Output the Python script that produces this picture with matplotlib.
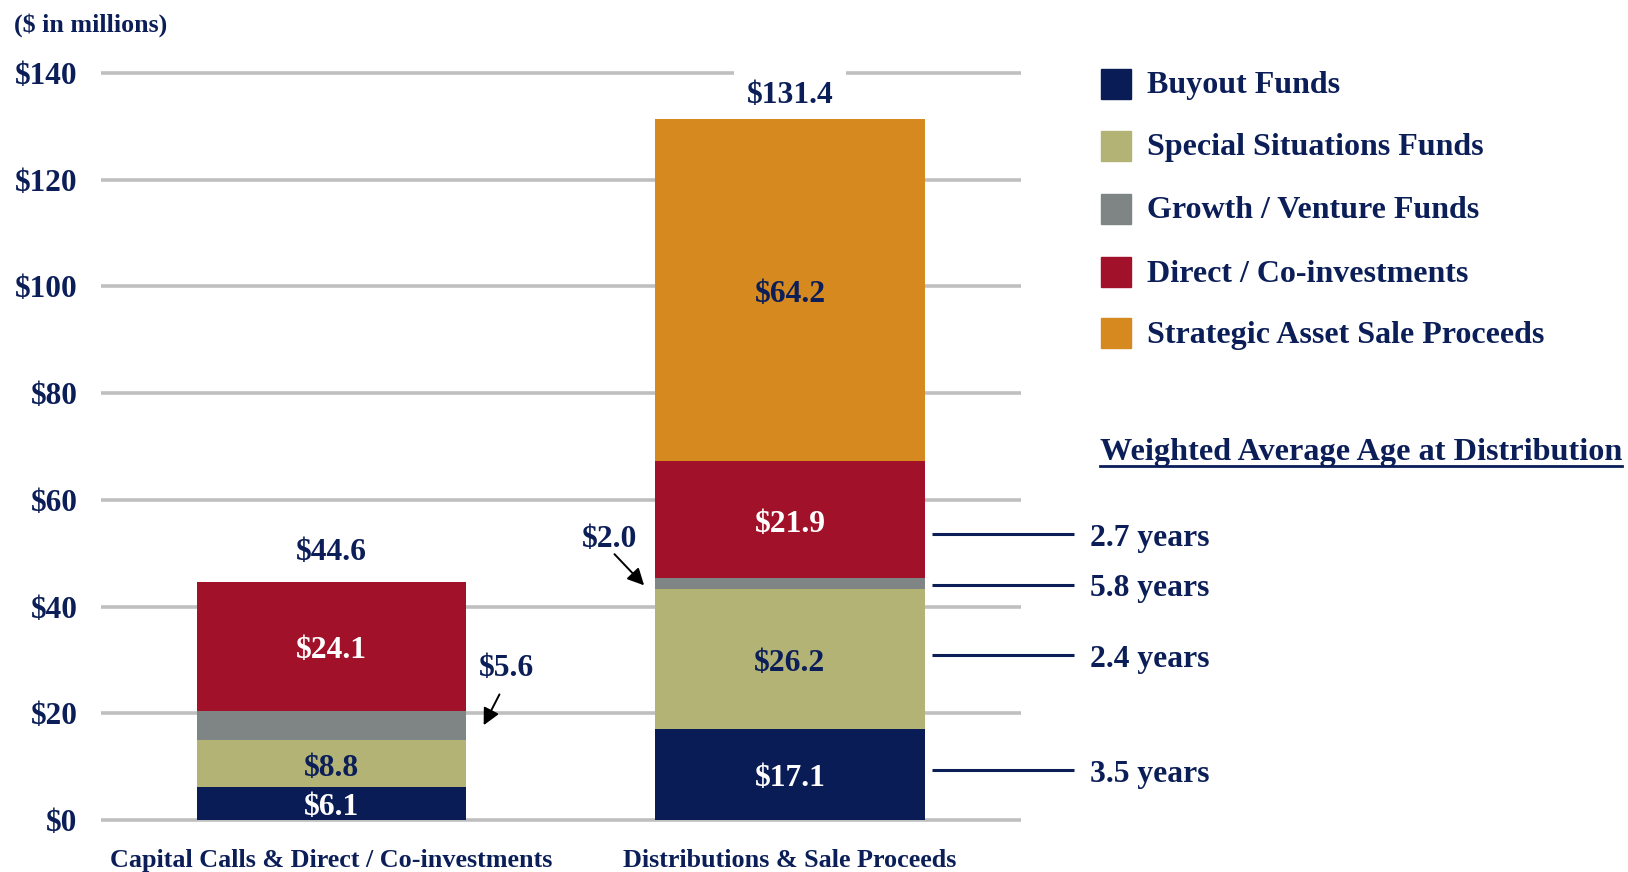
import matplotlib
matplotlib.use("Agg")
import matplotlib.pyplot as plt
from matplotlib.patches import Rectangle
from matplotlib.lines import Line2D
import matplotlib.transforms as mtransforms

plt.rcParams['font.family'] = ['Liberation Serif', 'DejaVu Serif']
plt.rcParams['font.weight'] = 'bold'

# ---- data ----
categories = ["Capital Calls & Direct / Co-investments", "Distributions & Sale Proceeds"]
series_names = ["Buyout Funds", "Special Situations Funds", "Growth / Venture Funds",
                "Direct / Co-investments", "Strategic Asset Sale Proceeds"]
buyout = [6.1, 17.1]
special = [8.8, 26.2]
growth = [5.6, 2.0]
direct = [24.1, 21.9]
strategic = [0.0, 64.2]
totals = [44.6, 131.4]
ages = ["3.5 years", "2.4 years", "5.8 years", "2.7 years"]
age_levels = [9.3, 30.9, 44.1, 53.6]
yticks = [0, 20, 40, 60, 80, 100, 120, 140]

NAVY = '#0B1E58'
colors = ['#0A1C55', '#B3B376', '#7E8584', '#A11129', '#D5891F']
label_colors = ['white', NAVY, NAVY, 'white', NAVY]
FS = 22.8

W, H = 1628, 872
fig = plt.figure(figsize=(W / 100, H / 100), dpi=100)
ax = fig.add_axes([101 / W, 52 / H, 920 / W, 747 / H])
ax.set_xlim(-0.503, 1.504)
ax.set_ylim(0, 140)

down = mtransforms.offset_copy(ax.transData, fig=fig, x=0, y=-3, units='points')

for s in ax.spines.values():
    s.set_visible(False)
ax.set_yticks(yticks)
ax.set_yticklabels([f"${v}" for v in yticks], fontsize=22.5, color=NAVY, fontweight='bold')
ax.tick_params(axis='y', length=0, pad=17)
ax.yaxis.grid(True, color='#BFBFBF', lw=2.6)
ax.set_axisbelow(True)
for gl in ax.get_ygridlines():
    gl.set_clip_on(False)
    gl.set_solid_capstyle('butt')

x = [0, 1]
ax.set_xticks(x)
ax.set_xticklabels(categories, fontsize=18.8, color=NAVY, fontweight='bold')
ax.tick_params(axis='x', length=0, pad=21)

width = 0.587
stack = [buyout, special, growth, direct, strategic]
bottoms = [0.0, 0.0]
for k, (vals, col) in enumerate(zip(stack, colors)):
    ax.bar(x, vals, width, bottom=bottoms, color=col, zorder=3, linewidth=0)
    for i in range(2):
        v = vals[i]
        if v <= 0 or k == 2:
            continue
        ax.text(x[i], bottoms[i] + v / 2, f"${v:.1f}", ha='center', va='center',
                fontsize=FS, color=label_colors[k], fontweight='bold', zorder=4,
                transform=down)
    bottoms = [b + v for b, v in zip(bottoms, vals)]

# totals (white box sits behind the bars, over the gridlines)
for i, off in zip(range(2), [21, 16.5]):
    ax.annotate(f"${totals[i]:.1f}", (x[i], totals[i]), xytext=(0, off),
                textcoords='offset points', ha='center', va='center', fontsize=FS,
                color=NAVY, fontweight='bold', zorder=2.5, annotation_clip=False,
                bbox=dict(facecolor='white', edgecolor='none', pad=9))

# arrow callouts for growth segments
ax.text(0.382, 29.2, f"${growth[0]:.1f}", ha='center', va='center', fontsize=FS,
        color=NAVY, fontweight='bold', transform=down)
ax.annotate("", xy=(0.329, 17.3), xytext=(0.369, 24.0),
            arrowprops=dict(arrowstyle='-|>', color='black', lw=1.4, mutation_scale=25))
ax.text(0.606, 53.4, f"${growth[1]:.1f}", ha='center', va='center', fontsize=FS,
        color=NAVY, fontweight='bold', transform=down)
ax.annotate("", xy=(0.686, 43.6), xytext=(0.613, 50.2),
            arrowprops=dict(arrowstyle='-|>', color='black', lw=1.4, mutation_scale=25))

# weighted age lines
for lvl, txt in zip(age_levels, ages):
    ax.plot([1.31, 1.62], [lvl, lvl], color=NAVY, lw=2.2, clip_on=False,
            solid_capstyle='butt')
    ax.text(1.655, lvl, txt, ha='left', va='center', fontsize=FS, color=NAVY,
            fontweight='bold', clip_on=False, transform=down)

# legend (manual)
leg_y = [86, 148, 211, 274, 335]
for name, col, yy in zip(series_names, colors, leg_y):
    fig.patches.append(Rectangle((1101 / W, (H - yy - 13) / H), 30 / W, 30 / H,
                                 transform=fig.transFigure, color=col))
    fig.text(1147 / W, (H - yy) / H, name, ha='left', va='center', fontsize=23,
             color=NAVY, fontweight='bold')

t = fig.text(1100 / W, (H - 452) / H, "Weighted Average Age at Distribution",
             ha='left', va='center', fontsize=23.2, color=NAVY, fontweight='bold')
fig.canvas.draw()
bb = t.get_window_extent()
fig.add_artist(Line2D([bb.x0 / W, bb.x1 / W], [(H - 466) / H, (H - 466) / H],
                      transform=fig.transFigure, color=NAVY, lw=2))

fig.text(14 / W, (H - 25) / H, "($ in millions)", ha='left', va='center', fontsize=18.7,
         color=NAVY, fontweight='bold')

fig.savefig("out.png", dpi=100)
